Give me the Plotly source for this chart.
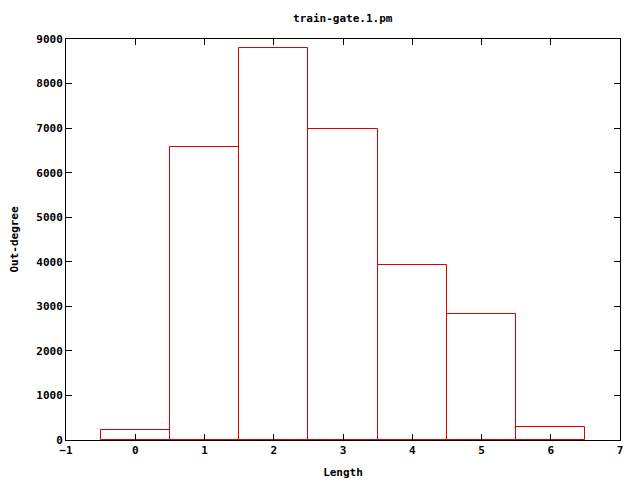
import plotly.graph_objects as go

lengths = [0, 1, 2, 3, 4, 5, 6]
out_degree = [218, 6570, 8805, 6990, 3927, 2820, 285]
x_ticks = [-1, 0, 1, 2, 3, 4, 5, 6, 7]
y_ticks = [0, 1000, 2000, 3000, 4000, 5000, 6000, 7000, 8000, 9000]

font = dict(family="DejaVu Sans Mono", size=11, color="black", weight="bold")

fig = go.Figure(go.Bar(
    x=lengths, y=out_degree, width=1,
    marker=dict(color="rgba(255,255,255,0)", line=dict(color="#dd0000", width=1)),
))

axis_common = dict(
    showline=True, linecolor="black", linewidth=1, mirror="ticks",
    ticks="inside", ticklen=6, tickcolor="black", showgrid=False,
    zeroline=False, tickfont=font, automargin=False, layer="above traces",
)

fig.update_layout(
    width=640, height=480,
    margin=dict(l=58, r=28, t=31, b=48, autoexpand=False),
    paper_bgcolor="white", plot_bgcolor="white",
    showlegend=False,
    title=dict(text="train-gate.1.pm", x=0.523, xanchor="center", y=0.979, yanchor="middle",
               font=font, automargin=False),
    xaxis=dict(range=[-1, 7], tickvals=x_ticks,
               title=dict(text="Length", font=font, standoff=12), **axis_common),
    yaxis=dict(range=[0, 9000], tickvals=y_ticks,
               title=dict(text="Out-degree", font=font, standoff=23), **axis_common),
    bargap=0,
)

fig.write_html("out.html")
